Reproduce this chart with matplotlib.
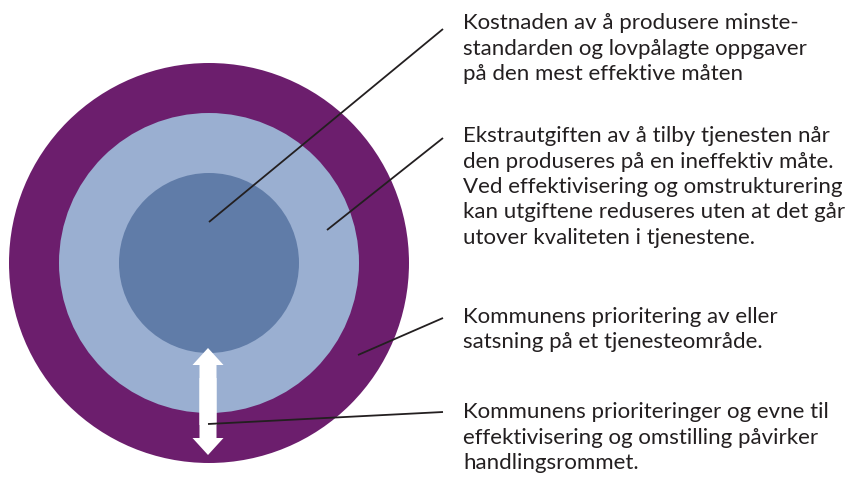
import matplotlib
matplotlib.use("Agg")
import matplotlib.pyplot as plt
from matplotlib.patches import Circle, FancyArrow

# ---- data ----
ring_labels = ["Handlingsrom", "Ineffektivitet", "Minstestandard"]
ring_radii = [200, 150, 90]
ring_colors = ["#6c1e6d", "#9aafd1", "#607ca8"]

label_blocks = [
    ["Kostnaden av å produsere minste-",
     "standarden og lovpålagte oppgaver",
     "på den mest effektive måten"],
    ["Ekstrautgiften av å tilby tjenesten når",
     "den produseres på en ineffektiv måte.",
     "Ved effektivisering og omstrukturering",
     "kan utgiftene reduseres uten at det går",
     "utover kvaliteten i tjenestene."],
    ["Kommunens prioritering av eller",
     "satsning på et tjenesteområde."],
    ["Kommunens prioriteringer og evne til",
     "effektivisering og omstilling påvirker",
     "handlingsrommet."],
]

# leader lines: start point (inside diagram) -> end point (next to text)
leader_start = [(209, 222), (327, 230), (358, 355), (208, 424)]
leader_end = [(443, 29), (443, 138), (443, 318), (443, 412)]
block_first_baseline = [29, 142, 323, 418]

W, H = 852, 479
fig = plt.figure(figsize=(W / 100, H / 100), dpi=100)
ax = fig.add_axes([0, 0, 1, 1])
ax.set_xlim(0, W)
ax.set_ylim(H, 0)
ax.axis("off")

cx, cy = 209, 263
for r, c in zip(ring_radii, ring_colors):
    ax.add_patch(Circle((cx, cy), r, facecolor=c, edgecolor="none", zorder=1))

# double-headed white arrow (two overlapping single arrows)
for start, tip in ((425, 348), (378, 455)):
    ax.add_patch(FancyArrow(cx - 1, start, 0, tip - start, width=17, head_width=31,
                            head_length=17, length_includes_head=True,
                            facecolor="white", edgecolor="none", zorder=2))

for (x0, y0), (x1, y1) in zip(leader_start, leader_end):
    ax.plot([x0, x1], [y0, y1], color="#231f20", lw=1.3, solid_capstyle="butt", zorder=3)

pitch = 25.5
for block, y0 in zip(label_blocks, block_first_baseline):
    for i, line in enumerate(block):
        ax.text(463, y0 + i * pitch, line, fontsize=16, family="Lato",
                color="#231f20", ha="left", va="baseline")

fig.savefig("out.png", dpi=100)
